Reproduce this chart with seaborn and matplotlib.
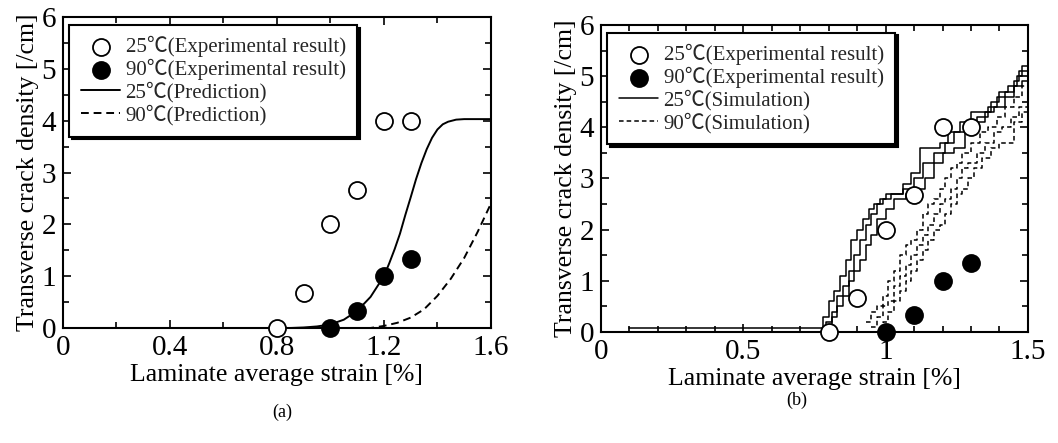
import numpy as np
import pandas as pd
import matplotlib
matplotlib.use("Agg")
import matplotlib.pyplot as plt
from matplotlib.ticker import MultipleLocator
import seaborn as sns

# ---- (a) experiments + prediction ----
exp25_x = [0.8, 0.9, 1.0, 1.1, 1.2, 1.3]
exp25_y = [0.0, 0.67, 2.0, 2.67, 4.0, 4.0]
exp90_x = [1.0, 1.1, 1.2, 1.3]
exp90_y = [0.0, 0.33, 1.0, 1.33]
exp90_y_b = [0.0, 0.34, 1.0, 1.35]

pred25_x = [0.0, 0.85, 0.90, 0.95, 1.00, 1.05, 1.10, 1.15, 1.20, 1.22, 1.24, 1.26, 1.28, 1.30,
            1.32, 1.34, 1.36, 1.38, 1.40, 1.42, 1.44, 1.47, 1.50, 1.60]
pred25_y = [0.0, 0.0, 0.01, 0.03, 0.07, 0.16, 0.33, 0.60, 1.00, 1.25, 1.52, 1.82, 2.18, 2.52,
            2.87, 3.18, 3.45, 3.67, 3.83, 3.93, 3.98, 4.02, 4.03, 4.03]
pred90_x = [0.0, 1.15, 1.20, 1.25, 1.30, 1.35, 1.40, 1.45, 1.50, 1.55, 1.60]
pred90_y = [0.0, 0.0, 0.04, 0.10, 0.20, 0.36, 0.62, 0.95, 1.35, 1.85, 2.40]

# ---- (b) simulations (3 runs each) ----
sim25_x = [
    [0.10, 0.78, 0.80, 0.82, 0.84, 0.86, 0.88, 0.90, 0.92, 0.94, 0.96, 0.98, 1.00, 1.06, 1.09, 1.12, 1.15, 1.19, 1.22, 1.26, 1.30, 1.34, 1.37, 1.40, 1.43, 1.46, 1.48, 1.50],
    [0.76, 0.79, 0.81, 0.83, 0.85, 0.87, 0.89, 0.91, 0.93, 0.95, 0.97, 0.99, 1.02, 1.06, 1.10, 1.13, 1.17, 1.21, 1.24, 1.28, 1.32, 1.36, 1.39, 1.42, 1.45, 1.47, 1.50],
    [0.79, 0.81, 0.83, 0.85, 0.87, 0.89, 0.91, 0.93, 0.95, 0.97, 1.00, 1.03, 1.07, 1.10, 1.14, 1.17, 1.20, 1.24, 1.28, 1.32, 1.35, 1.38, 1.42, 1.45, 1.48, 1.50],
]
sim25_y = [
    [0.08, 0.3, 0.6, 0.8, 1.1, 1.4, 1.8, 2.0, 2.2, 2.4, 2.5, 2.6, 2.7, 2.9, 3.1, 3.6, 3.6, 3.7, 3.9, 4.1, 4.3, 4.3, 4.5, 4.7, 4.8, 5.0, 5.2, 5.2],
    [0.0, 0.2, 0.4, 0.7, 0.9, 1.2, 1.5, 1.8, 2.1, 2.3, 2.5, 2.6, 2.7, 2.8, 3.0, 3.3, 3.5, 3.7, 3.9, 4.1, 4.2, 4.4, 4.6, 4.7, 4.9, 5.1, 5.1],
    [0.1, 0.3, 0.5, 0.7, 1.0, 1.2, 1.4, 1.7, 1.9, 2.2, 2.4, 2.6, 2.7, 2.8, 3.0, 3.3, 3.5, 3.6, 3.9, 4.1, 4.3, 4.4, 4.6, 4.8, 4.9, 4.95],
]
sim90_x = [
    [0.93, 0.95, 0.97, 0.99, 1.01, 1.03, 1.05, 1.07, 1.09, 1.11, 1.13, 1.15, 1.17, 1.19, 1.21, 1.23, 1.25, 1.27, 1.30, 1.33, 1.36, 1.39, 1.42, 1.45, 1.48, 1.50],
    [0.95, 0.97, 0.99, 1.01, 1.03, 1.05, 1.07, 1.09, 1.11, 1.13, 1.15, 1.17, 1.19, 1.21, 1.23, 1.25, 1.27, 1.29, 1.32, 1.35, 1.38, 1.41, 1.44, 1.47, 1.50],
    [0.97, 0.99, 1.01, 1.03, 1.05, 1.07, 1.09, 1.11, 1.13, 1.15, 1.17, 1.19, 1.21, 1.23, 1.25, 1.27, 1.29, 1.31, 1.34, 1.37, 1.40, 1.43, 1.45, 1.48, 1.50],
]
sim90_y = [
    [0.2, 0.4, 0.5, 0.7, 1.0, 1.2, 1.5, 1.7, 1.8, 2.0, 2.3, 2.5, 2.6, 2.8, 3.0, 3.2, 3.3, 3.5, 3.7, 3.9, 4.0, 4.2, 4.4, 4.6, 4.8, 4.8],
    [0.1, 0.3, 0.5, 0.6, 0.9, 1.1, 1.3, 1.5, 1.7, 1.9, 2.1, 2.3, 2.5, 2.6, 2.8, 3.0, 3.2, 3.3, 3.5, 3.7, 3.9, 4.0, 4.2, 4.4, 4.6],
    [0.0, 0.2, 0.4, 0.6, 0.8, 1.0, 1.2, 1.4, 1.6, 1.8, 2.0, 2.1, 2.3, 2.5, 2.7, 2.8, 3.0, 3.2, 3.4, 3.6, 3.7, 3.7, 4.1, 4.3, 4.3],
]

lab_exp25 = "25\u2103(Experimental result)"
lab_exp90 = "90\u2103(Experimental result)"

sns.set_theme(style="ticks")
plt.rcParams['font.family'] = ['Liberation Serif', 'Noto Sans CJK JP', 'DejaVu Sans']
plt.rcParams['axes.unicode_minus'] = False

fig = plt.figure(figsize=(10.58, 4.43), dpi=100)
axa = fig.add_axes([0.0595, 0.2596, 0.4045, 0.702])
axb = fig.add_axes([0.568, 0.2506, 0.4036, 0.693])

def style_axes(ax, xmax, xmajor, xminor):
    ax.set_xlim(0, xmax)
    ax.set_ylim(0, 6)
    ax.xaxis.set_major_locator(MultipleLocator(xmajor))
    ax.xaxis.set_minor_locator(MultipleLocator(xminor))
    ax.yaxis.set_major_locator(MultipleLocator(1))
    ax.yaxis.set_minor_locator(MultipleLocator(0.5))
    ax.xaxis.set_major_formatter(plt.FuncFormatter(lambda v, p: f"{v:g}"))
    ax.tick_params(which='both', direction='in', top=True, right=True,
                   color='black', width=1.2)
    ax.tick_params(which='major', length=6, labelsize=21, pad=5, labelcolor='black')
    ax.tick_params(which='minor', length=4)
    for s in ax.spines.values():
        s.set_color('black')
        s.set_linewidth(1.5)
    ax.set_xlabel("Laminate average strain [%]", fontsize=18.5, color='black', labelpad=2)
    ax.set_ylabel("Transverse crack density [/cm]", fontsize=18.5, color='black', labelpad=2)

def add_legend(ax):
    leg = ax.legend(loc='upper left', bbox_to_anchor=(0.015, 0.975), fontsize=15,
                    frameon=True, fancybox=False, framealpha=1, edgecolor='black',
                    shadow={'color': 'black', 'alpha': 1},
                    handlelength=1.9, handletextpad=0.25, borderpad=0.55,
                    labelspacing=0.08, borderaxespad=0)
    leg.get_frame().set_linewidth(1.5)

# ---- panel (a) ----
sns.scatterplot(x=exp25_x, y=exp25_y, ax=axa, s=150, marker='o', facecolor='white',
                edgecolor='black', linewidth=1.3, label=lab_exp25, zorder=4, clip_on=False)
sns.scatterplot(x=exp90_x, y=exp90_y, ax=axa, s=150, marker='o', color='black',
                edgecolor='black', linewidth=1.3, label=lab_exp90, zorder=4, clip_on=False)
sns.lineplot(x=pred25_x, y=pred25_y, ax=axa, color='black', lw=1.4,
             label="25\u2103(Prediction)", zorder=3)
sns.lineplot(x=pred90_x, y=pred90_y, ax=axa, color='black', lw=1.4, ls=(0, (4, 2.5)),
             label="90\u2103(Prediction)", zorder=3)
style_axes(axa, 1.6, 0.4, 0.2)
add_legend(axa)

# ---- panel (b) ----
sns.scatterplot(x=exp25_x, y=exp25_y, ax=axb, s=150, marker='o', facecolor='white',
                edgecolor='black', linewidth=1.3, label=lab_exp25, zorder=4, clip_on=False)
sns.scatterplot(x=exp90_x, y=exp90_y_b, ax=axb, s=150, marker='o', color='black',
                edgecolor='black', linewidth=1.3, label=lab_exp90, zorder=4, clip_on=False)
for i, (xs, ys) in enumerate(zip(sim25_x, sim25_y)):
    sns.lineplot(x=xs, y=ys, ax=axb, color='black', lw=1.1, drawstyle='steps-post',
                 label="25\u2103(Simulation)" if i == 0 else None, zorder=3)
for i, (xs, ys) in enumerate(zip(sim90_x, sim90_y)):
    sns.lineplot(x=xs, y=ys, ax=axb, color='black', lw=1.1, drawstyle='steps-post',
                 ls=(0, (3, 2)), label="90\u2103(Simulation)" if i == 0 else None, zorder=3)
style_axes(axb, 1.5, 0.5, 0.1)
add_legend(axb)

fig.text(282 / 1058, 1 - 412 / 443, "(a)", ha='center', va='center', fontsize=13, color='black')
fig.text(797 / 1058, 1 - 400 / 443, "(b)", ha='center', va='center', fontsize=13, color='black')

fig.savefig("out.png", dpi=100, facecolor='white')
